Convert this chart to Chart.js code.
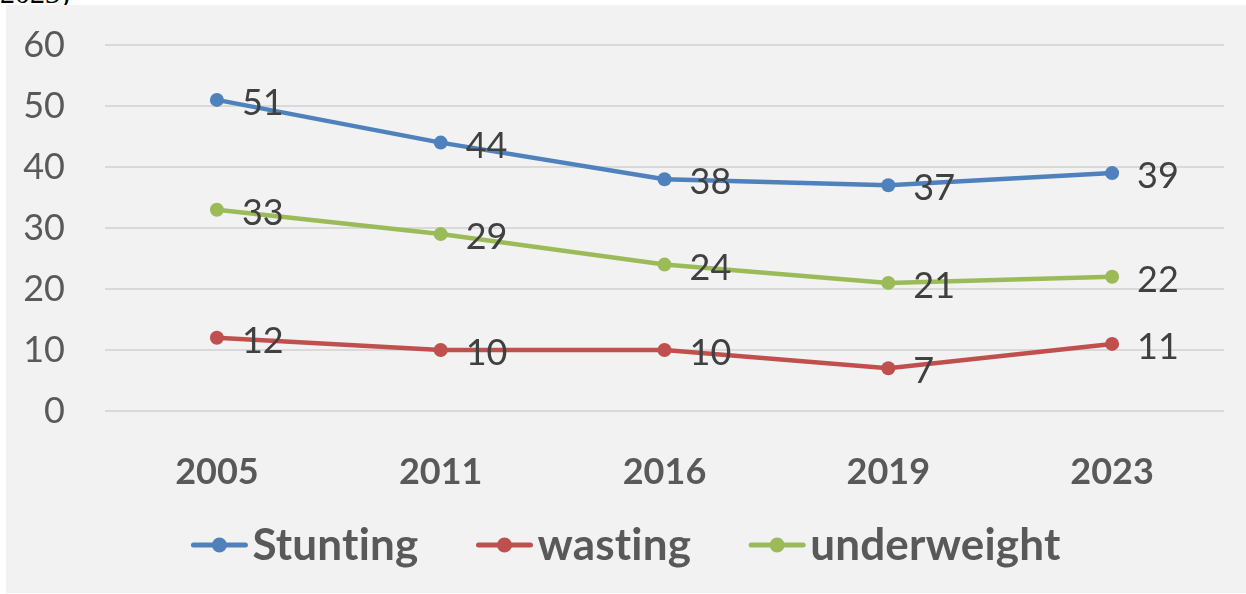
<!DOCTYPE html>
<html>
<head>
<meta charset="utf-8">
<script src="https://cdn.jsdelivr.net/npm/chart.js"></script>
<style>
  html, body { margin: 0; padding: 0; background: #ffffff; }
  body { width: 1246px; height: 594px; position: relative; overflow: hidden; }
  #caption {
    position: absolute; left: 0; top: -22px;
    font-family: "Liberation Serif", serif; font-size: 30px; line-height: 30px; color: #000;
  }
  #panel {
    position: absolute; left: 6px; top: 5px; width: 1240px; height: 588px;
    background: #f2f2f2;
  }
</style>
</head>
<body>
<div id="caption">2023)</div>
<div id="panel"><canvas id="chart"></canvas></div>
<script>
const years = ['2005', '2011', '2016', '2019', '2023'];
const stunting = [51, 44, 38, 37, 39];
const wasting = [12, 10, 10, 7, 11];
const underweight = [33, 29, 24, 21, 22];

const seriesNames = ['Stunting', 'wasting', 'underweight'];
const seriesColors = ['#4f81bd', '#c0504d', '#9bbb59'];

const fontFamily = 'Lato, "Open Sans", sans-serif';

// value labels to the right of each point
const valueLabels = {
  id: 'valueLabels',
  afterDatasetsDraw(chart) {
    const ctx = chart.ctx;
    ctx.save();
    ctx.font = '36px ' + fontFamily;
    ctx.fillStyle = '#404040';
    ctx.textAlign = 'left';
    ctx.textBaseline = 'alphabetic';
    chart.data.datasets.forEach((ds, i) => {
      const meta = chart.getDatasetMeta(i);
      meta.data.forEach((pt, j) => {
        ctx.fillText(String(ds.data[j]), pt.x + 25, pt.y + 15);
      });
    });
    ctx.restore();
  }
};

// legend drawn like the office one: line with a dot, then bold name
const lineLegend = {
  id: 'lineLegend',
  afterDraw(chart) {
    const ctx = chart.ctx;
    const markW = 56, gapText = 5, gapItem = 58;
    ctx.save();
    ctx.font = 'bold 44px ' + fontFamily;
    ctx.letterSpacing = '0.2px'; // keeps "ti" from turning into a ligature
    const items = chart.data.datasets.map(ds => ({
      label: ds.label, color: ds.borderColor, w: ctx.measureText(ds.label).width
    }));
    let total = 0;
    items.forEach((it, i) => { total += markW + gapText + it.w + (i ? gapItem : 0); });
    let x = chart.width / 2 - total / 2;
    const y = 540;
    items.forEach(it => {
      ctx.strokeStyle = it.color;
      ctx.lineWidth = 5;
      ctx.lineCap = 'round';
      ctx.beginPath();
      ctx.moveTo(x + 2, y);
      ctx.lineTo(x + markW - 2, y);
      ctx.stroke();
      ctx.fillStyle = it.color;
      ctx.beginPath();
      ctx.arc(x + markW / 2, y, 7.5, 0, Math.PI * 2);
      ctx.fill();
      ctx.fillStyle = '#595959';
      ctx.textBaseline = 'middle';
      ctx.fillText(it.label, x + markW + gapText, y + 1);
      x += markW + gapText + it.w + gapItem;
    });
    ctx.restore();
  }
};

const series = [stunting, wasting, underweight];

new Chart(document.getElementById('chart'), {
  type: 'line',
  data: {
    labels: years,
    datasets: series.map((vals, i) => ({
      label: seriesNames[i],
      data: vals,
      borderColor: seriesColors[i],
      backgroundColor: seriesColors[i],
      borderWidth: 4.5,
      pointRadius: 7,
      pointBorderWidth: 0,
      tension: 0
    }))
  },
  options: {
    responsive: true,
    maintainAspectRatio: false,
    animation: false,
    layout: { padding: { top: 40, right: 22, bottom: 92, left: 0 } },
    plugins: {
      legend: { display: false },
      tooltip: { enabled: false }
    },
    scales: {
      x: {
        offset: true,
        grid: { display: false },
        border: { display: false },
        ticks: {
          padding: 32,
          color: '#595959',
          font: { family: fontFamily, size: 36, weight: 'bold' }
        },
        afterFit: s => { s.height = 90; s.paddingLeft = 0; s.paddingRight = 0; }
      },
      y: {
        min: 0,
        max: 60,
        grid: { color: '#d9d9d9', lineWidth: 2, drawTicks: false },
        border: { display: false },
        ticks: {
          stepSize: 10,
          padding: 40,
          color: '#595959',
          font: { family: fontFamily, size: 36 }
        },
        afterFit: s => { s.width = 99; s.paddingTop = 0; s.paddingBottom = 0; }
      }
    }
  },
  plugins: [valueLabels, lineLegend]
});
</script>
</body>
</html>
